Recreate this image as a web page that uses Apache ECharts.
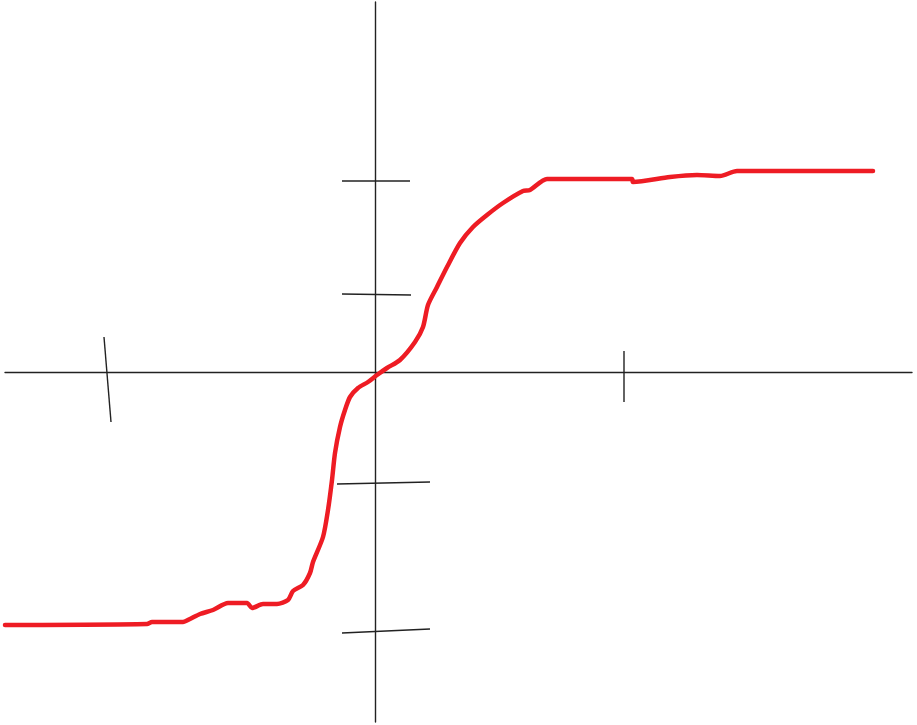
<!DOCTYPE html>
<html><head><meta charset="utf-8">
<script src="https://cdn.jsdelivr.net/npm/echarts@6/dist/echarts.min.js"></script>
<style>html,body{margin:0;padding:0;background:#fff}#c{width:917px;height:725px}</style>
</head><body><div id="c"></div>
<script>
// Curve points (x, y)
const curveX = [-3.70,-2.28,-2.23,-1.92,-1.85,-1.75,-1.62,-1.47,-1.28,-1.23,-1.12,-0.98,-0.87,-0.82,-0.72,-0.65,-0.62,-0.52,-0.47,-0.43,-0.40,-0.35,-0.30,-0.25,-0.17,-0.07,0.02,0.12,0.25,0.40,0.48,0.53,0.62,0.72,0.85,0.98,1.12,1.28,1.48,1.55,1.72,2.57,2.58,2.95,3.22,3.45,3.62,4.98];
const curveY = [-2.53,-2.52,-2.50,-2.50,-2.47,-2.42,-2.38,-2.31,-2.31,-2.36,-2.32,-2.32,-2.28,-2.19,-2.13,-2.01,-1.90,-1.65,-1.38,-1.08,-0.81,-0.55,-0.38,-0.25,-0.16,-0.10,-0.03,0.04,0.12,0.30,0.45,0.67,0.85,1.05,1.29,1.45,1.57,1.69,1.81,1.82,1.93,1.93,1.90,1.95,1.97,1.96,2.01,2.01];
// Hand-drawn tick marks: [x1, y1, x2, y2]
const tickMarks = [
  [-2.71, 0.35, -2.64, -0.50],
  [2.49, 0.21, 2.49, -0.30],
  [-0.33, 1.91, 0.35, 1.91],
  [-0.33, 0.78, 0.36, 0.77],
  [-0.38, -1.12, 0.55, -1.10],
  [-0.33, -2.61, 0.55, -2.57]
];
const xRange = [-3.70, 5.37];
const yRange = [-3.50, 3.70];

const chart = echarts.init(document.getElementById('c'), null, {renderer: 'canvas'});
const curveData = curveX.map((x, i) => [x, curveY[i]]);
const tickSeries = tickMarks.map(t => ({
  type: 'line', data: [[t[0], t[1]], [t[2], t[3]]], symbol: 'none', silent: true,
  lineStyle: {color: '#222', width: 1.4}, z: 2
}));
chart.setOption({
  animation: false,
  backgroundColor: '#fff',
  grid: {left: 5, right: 5, top: 2, bottom: 3},
  xAxis: {type: 'value', min: xRange[0], max: xRange[1],
    axisLine: {show: true, onZero: true, lineStyle: {color: '#222', width: 1.4}},
    axisTick: {show: false}, axisLabel: {show: false}, splitLine: {show: false}},
  yAxis: {type: 'value', min: yRange[0], max: yRange[1],
    axisLine: {show: true, onZero: true, lineStyle: {color: '#222', width: 1.4}},
    axisTick: {show: false}, axisLabel: {show: false}, splitLine: {show: false}},
  series: tickSeries.concat([{
    type: 'line', data: curveData, symbol: 'none', silent: true, smooth: 0.25,
    lineStyle: {color: '#ee1c24', width: 4.5, cap: 'round', join: 'round'}, z: 3
  }])
});
</script></body></html>
